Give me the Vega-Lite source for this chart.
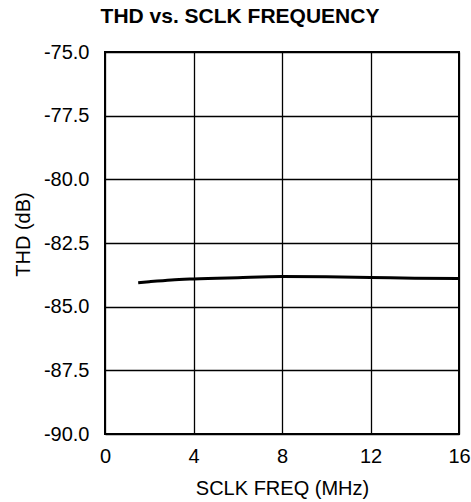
{
  "$schema": "https://vega.github.io/schema/vega-lite/v6.json",
  "width": 354,
  "height": 382,
  "autosize": "none",
  "padding": {"left": 105, "top": 52, "right": 12, "bottom": 68},
  "background": "white",
  "title": {
    "text": "THD vs. SCLK FREQUENCY",
    "font": "Liberation Sans",
    "fontSize": 21,
    "fontWeight": "bold",
    "color": "black",
    "anchor": "middle",
    "frame": "group",
    "offset": 15,
    "dx": -42
  },
  "config": {
    "view": {"stroke": "black", "strokeWidth": 2},
    "axis": {
      "labelFont": "Liberation Sans",
      "titleFont": "Liberation Sans",
      "labelFontSize": 20,
      "titleFontSize": 20,
      "titleFontWeight": "normal",
      "labelColor": "black",
      "titleColor": "black",
      "gridColor": "black",
      "gridWidth": 1.3,
      "gridOpacity": 1,
      "ticks": false,
      "domain": false
    }
  },
  "data": {
    "values": [
      {"freq": 1.5, "thd": -84.06},
      {"freq": 2, "thd": -84.02},
      {"freq": 3, "thd": -83.95},
      {"freq": 4, "thd": -83.91},
      {"freq": 6, "thd": -83.86},
      {"freq": 8, "thd": -83.82},
      {"freq": 10, "thd": -83.83},
      {"freq": 12, "thd": -83.85},
      {"freq": 14, "thd": -83.88},
      {"freq": 16, "thd": -83.89}
    ]
  },
  "mark": {"type": "line", "color": "black", "strokeWidth": 3, "interpolate": "monotone"},
  "encoding": {
    "x": {
      "field": "freq",
      "type": "quantitative",
      "scale": {"domain": [0, 16], "nice": false, "zero": false},
      "axis": {"values": [0, 4, 8, 12, 16], "title": "SCLK FREQ (MHz)", "labelPadding": 12, "titlePadding": 12, "labelFlush": false}
    },
    "y": {
      "field": "thd",
      "type": "quantitative",
      "scale": {"domain": [-90, -75], "nice": false, "zero": false},
      "axis": {"values": [-90, -87.5, -85, -82.5, -80, -77.5, -75], "labelExpr": "replace(format(datum.value, '.1f'), '\u2212', '-')", "title": "THD (dB)", "titleY": 182, "labelPadding": 16, "titlePadding": 10, "labelFlush": false}
    }
  }
}
